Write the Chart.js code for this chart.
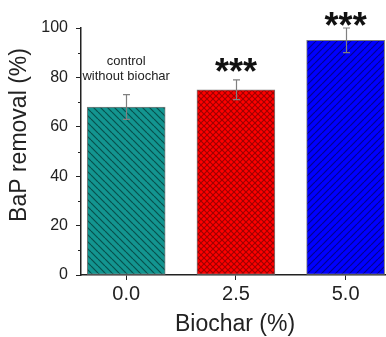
<!DOCTYPE html>
<html>
<head>
<meta charset="utf-8">
<script src="https://cdn.jsdelivr.net/npm/chart.js@4"></script>
<style>
  body { margin: 0; background: #fff; }
  #wrap { width: 386px; height: 337px; }
</style>
</head>
<body>
<div id="wrap"><canvas id="chart" width="386" height="337"></canvas></div>
<script>
'use strict';

// **** Data ****
let biochar = [0, 2.5, 5.0];
let tickLabels = ['0.0', '2.5', '5.0'];
let removal = [68, 75, 95];
let errors = [5, 4, 5];
let yTicks = [0, 20, 40, 60, 80, 100];

// **** Patterns ****
function hatch(bg, fg, size, dirs){
  let c = document.createElement('canvas');
  c.width = size;
  c.height = size;
  let g = c.getContext('2d');
  g.fillStyle = bg;
  g.fillRect(0, 0, size, size);
  g.strokeStyle = fg;
  g.lineWidth = 1.2;
  dirs.forEach(d => {
    for (let k = -size; k <= size; k += size){
      g.beginPath();
      if (d === 'down'){
        g.moveTo(k, 0);
        g.lineTo(k + size, size);
      } else {
        g.moveTo(k, size);
        g.lineTo(k + size, 0);
      }
      g.stroke();
    }
  });
  return g.createPattern(c, 'repeat');
}

let fills = [
  hatch('#139590', '#08504d', 7, ['down']),
  hatch('#ff0000', '#a00000', 6, ['down', 'up']),
  hatch('#0000ff', '#000090', 7, ['up'])
];

// **** Plugins ****
let extras = {
  id: 'extras',
  afterDatasetsDraw(chart){
    let ctx = chart.ctx;
    let xs = chart.scales.x;
    let ys = chart.scales.y;

    // error bars
    ctx.save();
    ctx.strokeStyle = '#808080';
    ctx.lineWidth = 1.2;
    for (let i = 0; i < biochar.length; i++){
      let x = Math.round(xs.getPixelForValue(biochar[i])) + 0.5;
      let top = ys.getPixelForValue(removal[i] + errors[i]);
      let bot = ys.getPixelForValue(removal[i] - errors[i]);
      ctx.beginPath();
      ctx.moveTo(x, top);
      ctx.lineTo(x, bot);
      ctx.moveTo(x - 3.5, top);
      ctx.lineTo(x + 3.5, top);
      ctx.moveTo(x - 3.5, bot);
      ctx.lineTo(x + 3.5, bot);
      ctx.stroke();
    }
    ctx.restore();
  },
  afterDraw(chart){
    let ctx = chart.ctx;
    let xs = chart.scales.x;
    let ys = chart.scales.y;
    let area = chart.chartArea;
    ctx.save();
    ctx.fillStyle = '#222';

    // minor y ticks
    ctx.strokeStyle = '#222';
    ctx.lineWidth = 1;
    for (let v = 10; v < 100; v += 20){
      let y = Math.round(ys.getPixelForValue(v)) + 0.5;
      ctx.beginPath();
      ctx.moveTo(area.left - 3, y);
      ctx.lineTo(area.left, y);
      ctx.stroke();
    }

    // axis titles
    ctx.font = '23px "Liberation Sans", Arial, sans-serif';
    ctx.textAlign = 'center';
    ctx.textBaseline = 'alphabetic';
    ctx.fillText('Biochar (%)', 235, 331);
    ctx.save();
    ctx.translate(26, 135);
    ctx.rotate(-Math.PI / 2);
    ctx.fillText('BaP removal (%)', 0, 0);
    ctx.restore();

    // control label
    ctx.font = '13px "Liberation Sans", Arial, sans-serif';
    let cx = xs.getPixelForValue(biochar[0]);
    ctx.fillText('control', cx, 65);
    ctx.fillText('without biochar', cx, 80);

    // significance stars
    ctx.fillStyle = '#111';
    ctx.font = 'bold 36px "Liberation Sans", Arial, sans-serif';
    ctx.fillText('***', xs.getPixelForValue(biochar[1]), ys.getPixelForValue(86) + 21);
    ctx.fillText('***', xs.getPixelForValue(biochar[2]), ys.getPixelForValue(104.5) + 21);
    ctx.restore();
  }
};

// **** Chart ****
let chartCanvas = document.getElementById('chart');

new Chart(chartCanvas, {
  type: 'bar',
  data: {
    datasets: [{
      label: 'BaP removal',
      data: biochar.map((b, i) => ({ x: b, y: removal[i] })),
      backgroundColor: fills,
      borderColor: '#7a7a7a',
      borderWidth: 1,
      borderSkipped: false,
      barThickness: 78
    }]
  },
  options: {
    responsive: false,
    animation: false,
    events: [],
    layout: { padding: { top: 28, right: 0, left: 0, bottom: 0 } },
    plugins: {
      legend: { display: false },
      tooltip: { enabled: false }
    },
    scales: {
      x: {
        type: 'linear',
        offset: false,
        min: -1.03,
        max: 5.92,
        afterBuildTicks: scale => { scale.ticks = biochar.map(v => ({ value: v })); },
        afterFit: scale => { scale.height = 62; },
        ticks: {
          callback: (v, i) => tickLabels[i],
          color: '#222',
          padding: 2,
          maxRotation: 0,
          font: { family: '"Liberation Sans", Arial, sans-serif', size: 20 }
        },
        grid: { offset: false, drawOnChartArea: false, tickLength: 5, color: '#222', tickWidth: 1 },
        border: { color: '#222', width: 1.5 }
      },
      y: {
        min: 0,
        max: 100,
        afterBuildTicks: scale => { scale.ticks = yTicks.map(v => ({ value: v })); },
        afterFit: scale => { scale.width = 81; },
        ticks: {
          color: '#222',
          padding: 8,
          font: { family: '"Liberation Sans", Arial, sans-serif', size: 16 }
        },
        grid: { drawOnChartArea: false, tickLength: 5, color: '#222', tickWidth: 1 },
        border: { color: '#222', width: 1.5 }
      }
    }
  },
  plugins: [extras]
});
</script>
</body>
</html>
